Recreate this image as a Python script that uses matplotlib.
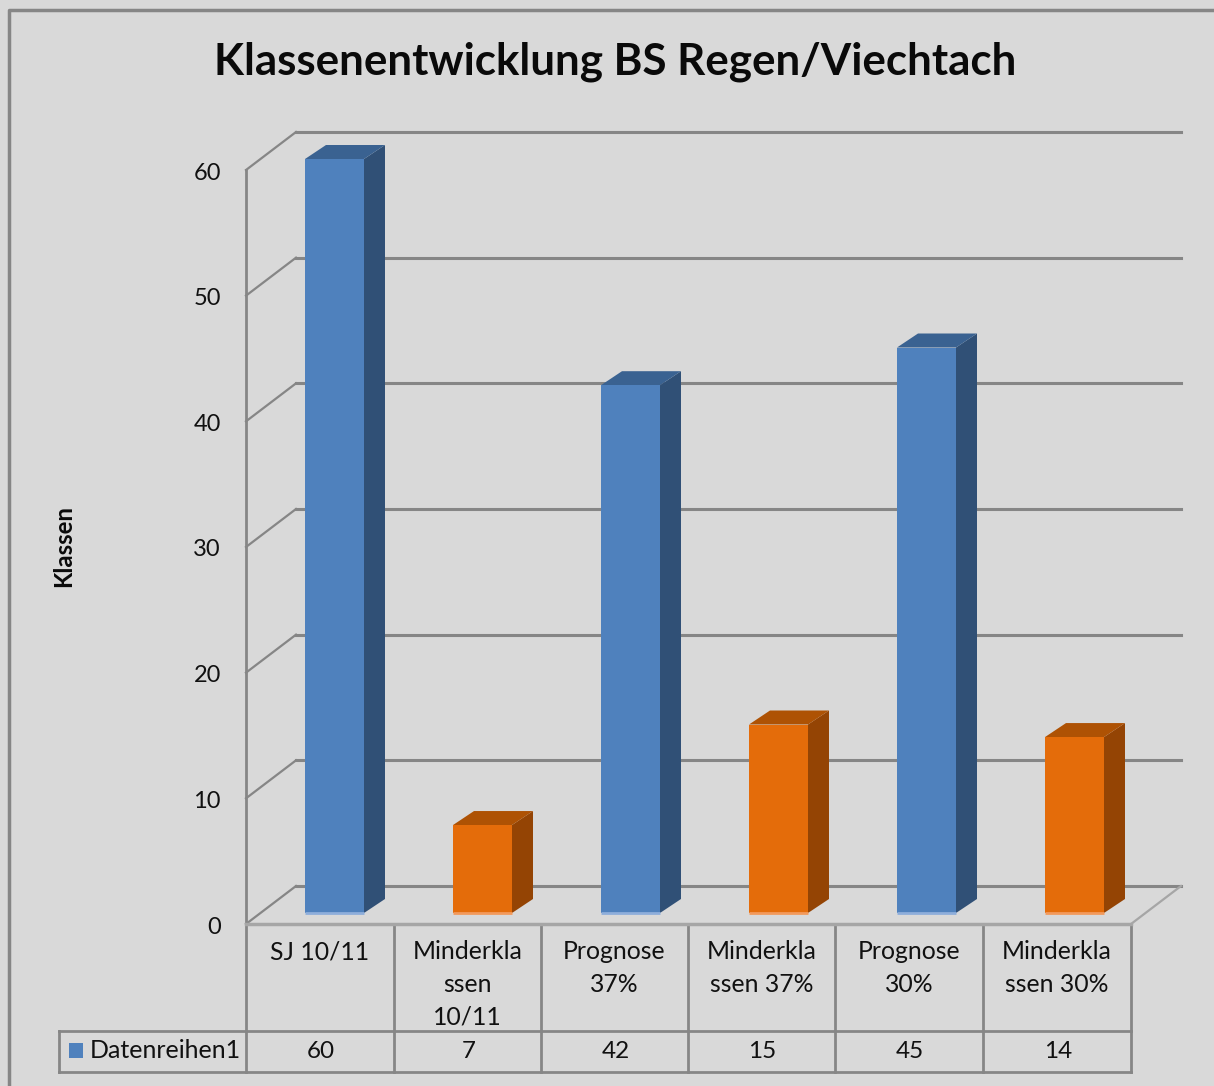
import matplotlib
matplotlib.use("Agg")
import matplotlib.pyplot as plt
from matplotlib.patches import Polygon, Rectangle

categories = ["SJ 10/11", "Minderkla\nssen\n10/11", "Prognose\n37%", "Minderkla\nssen 37%", "Prognose\n30%", "Minderkla\nssen 30%"]
values = [60, 7, 42, 15, 45, 14]
y_ticks = [0, 10, 20, 30, 40, 50, 60]
series_name = "Datenreihen1"
title = "Klassenentwicklung BS Regen/Viechtach"
y_label = "Klassen"

BG = "#d9d9d9"
GRID = "#868686"
BLUE = ("#4f81bd", "#3a6291", "#305076", "#8eaedb")
ORANGE = ("#e46c0a", "#ae5204", "#944404", "#f29a5c")
W, H = 1214, 1086

fig = plt.figure(figsize=(W / 100, H / 100), dpi=100, facecolor=BG)
plt.rcParams["font.family"] = ["Lato", "DejaVu Sans"]

# overlay in pixel coordinates for the frame, table and titles
page = fig.add_axes([0, 0, 1, 1], zorder=0)
page.set_xlim(0, W)
page.set_ylim(H, 0)
page.axis("off")

left, right, top, bottom = 246, 1131, 170, 924
ax = fig.add_axes([left / W, 1 - bottom / H, (right - left) / W, (bottom - top) / H], zorder=1)
ax.set_xlim(0, len(categories))
ax.set_ylim(0, 60)
ax.axis("off")

# wall depth and bar depth, in data units
px = len(categories) / (right - left)
py = 60 / (bottom - top)
depth_x, depth_y = 50 * px, 38 * py

page.plot([9, 9, W], [H, 10, 10], color=GRID, lw=2.5, solid_capstyle="butt")

for t in y_ticks:
    ax.plot([0, depth_x], [t, t + depth_y], color=GRID, lw=1.6, clip_on=False, zorder=1)
    ax.plot([depth_x, len(categories) + depth_x], [t + depth_y, t + depth_y], color=GRID, lw=2.2, clip_on=False, zorder=1)
    ax.text(-25 * px, t - 3 * py, str(t), ha="right", va="center", fontsize=17, color="#111111", clip_on=False)
ax.plot([0, 0], [0, 60], color=GRID, lw=2, clip_on=False, zorder=1)
ax.plot([len(categories), len(categories) + depth_x], [0, depth_y], color="#a6a6a6", lw=1.6, clip_on=False, zorder=1)
ax.plot([0, len(categories)], [0, 0], color="#a6a6a6", lw=2.5, clip_on=False, zorder=1)

bar_w = 59 * px
side_x, side_y = 21 * px, 14 * py
base = 11 * py
step = 148 * px
shift = 59 * px
for i, v in enumerate(values):
    front, top_c, side, edge = BLUE if i % 2 == 0 else ORANGE
    x0 = i * step + shift
    x1 = x0 + bar_w
    y1 = v + base
    ax.add_patch(Polygon([(x1, base), (x1 + side_x, base + side_y), (x1 + side_x, y1 + side_y), (x1, y1)],
                         fc=side, ec="none", clip_on=False, zorder=3))
    ax.add_patch(Polygon([(x0, y1), (x1, y1), (x1 + side_x, y1 + side_y), (x0 + side_x, y1 + side_y)],
                         fc=top_c, ec="none", clip_on=False, zorder=3))
    ax.add_patch(Rectangle((x0, base), bar_w, v, fc=front, ec="none", clip_on=False, zorder=4))
    ax.plot([x0, x1], [base, base], color=edge, lw=2, clip_on=False, solid_capstyle="butt", zorder=5)

# data table below the plot
col_x = [246, 394, 541, 688, 835, 983, 1131]
row_y = [924, 1031, 1072]
table_left = 59
for x in col_x:
    page.plot([x, x], [row_y[0], row_y[2]], color=GRID, lw=2, solid_capstyle="projecting")
page.plot([table_left, col_x[-1]], [row_y[1], row_y[1]], color=GRID, lw=2)
page.plot([table_left, col_x[-1]], [row_y[2], row_y[2]], color=GRID, lw=2)
page.plot([table_left, table_left], [row_y[1], row_y[2]], color=GRID, lw=2)

for i, (cat, v) in enumerate(zip(categories, values)):
    cx = (col_x[i] + col_x[i + 1]) / 2
    page.text(cx, 940, cat, ha="center", va="top", fontsize=17.8, linespacing=1.52, color="#111111")
    page.text(cx + 1, 1052, str(v), ha="center", va="center", fontsize=17.5, color="#111111")

page.add_patch(Rectangle((69, 1043), 14, 15, fc=BLUE[0], ec="none"))
page.text(90, 1051, series_name, ha="left", va="center", fontsize=18, color="#111111")

page.text(615, 62, title, ha="center", va="center", fontsize=31.6, fontweight="bold", color="#0a0a0a")
page.text(64, 546, y_label, ha="center", va="center", rotation=90, fontsize=17.2, fontweight="bold", color="#0a0a0a")

fig.savefig("out.png", dpi=100, facecolor=BG)
